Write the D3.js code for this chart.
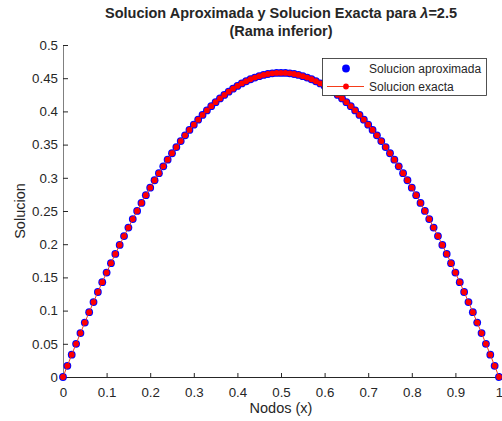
<!DOCTYPE html>
<html>
<head>
<meta charset="utf-8">
<script src="https://cdn.jsdelivr.net/npm/d3@7"></script>
<style>
    body { margin: 0; background: #fff; }
    text { font-family: "Liberation Sans", Arial, Helvetica, sans-serif; fill: #262626; }
</style>
</head>
<body>
<svg id="chart" width="502" height="421"></svg>
<script>
// Nodes (x)
const nodos = [
    0.00, 0.01, 0.02, 0.03, 0.04, 0.05, 0.06, 0.07, 0.08, 0.09,
    0.10, 0.11, 0.12, 0.13, 0.14, 0.15, 0.16, 0.17, 0.18, 0.19,
    0.20, 0.21, 0.22, 0.23, 0.24, 0.25, 0.26, 0.27, 0.28, 0.29,
    0.30, 0.31, 0.32, 0.33, 0.34, 0.35, 0.36, 0.37, 0.38, 0.39,
    0.40, 0.41, 0.42, 0.43, 0.44, 0.45, 0.46, 0.47, 0.48, 0.49,
    0.50, 0.51, 0.52, 0.53, 0.54, 0.55, 0.56, 0.57, 0.58, 0.59,
    0.60, 0.61, 0.62, 0.63, 0.64, 0.65, 0.66, 0.67, 0.68, 0.69,
    0.70, 0.71, 0.72, 0.73, 0.74, 0.75, 0.76, 0.77, 0.78, 0.79,
    0.80, 0.81, 0.82, 0.83, 0.84, 0.85, 0.86, 0.87, 0.88, 0.89,
    0.90, 0.91, 0.92, 0.93, 0.94, 0.95, 0.96, 0.97, 0.98, 0.99,
    1.00
];

const solAprox = [
    0, 0.0169, 0.0336, 0.0500, 0.0661, 0.0820, 0.0976, 0.1129, 0.1280, 0.1428,
    0.1572, 0.1714, 0.1853, 0.1989, 0.2122, 0.2251, 0.2378, 0.2501, 0.2622, 0.2739,
    0.2852, 0.2963, 0.3070, 0.3173, 0.3273, 0.3370, 0.3463, 0.3553, 0.3639, 0.3721,
    0.3800, 0.3875, 0.3947, 0.4015, 0.4079, 0.4139, 0.4196, 0.4248, 0.4297, 0.4342,
    0.4384, 0.4421, 0.4454, 0.4484, 0.4509, 0.4531, 0.4549, 0.4563, 0.4573, 0.4579,
    0.4580, 0.4579, 0.4573, 0.4563, 0.4549, 0.4531, 0.4509, 0.4484, 0.4454, 0.4421,
    0.4384, 0.4342, 0.4297, 0.4248, 0.4196, 0.4139, 0.4079, 0.4015, 0.3947, 0.3875,
    0.3800, 0.3721, 0.3639, 0.3553, 0.3463, 0.3370, 0.3273, 0.3173, 0.3070, 0.2963,
    0.2852, 0.2739, 0.2622, 0.2501, 0.2378, 0.2251, 0.2122, 0.1989, 0.1853, 0.1714,
    0.1572, 0.1428, 0.1280, 0.1129, 0.0976, 0.0820, 0.0661, 0.0500, 0.0336, 0.0169,
    0
];

const solExacta = [
    0, 0.0169, 0.0336, 0.0500, 0.0661, 0.0820, 0.0976, 0.1129, 0.1280, 0.1428,
    0.1572, 0.1714, 0.1853, 0.1989, 0.2122, 0.2251, 0.2378, 0.2501, 0.2622, 0.2739,
    0.2852, 0.2963, 0.3070, 0.3173, 0.3273, 0.3370, 0.3463, 0.3553, 0.3639, 0.3721,
    0.3800, 0.3875, 0.3947, 0.4015, 0.4079, 0.4139, 0.4196, 0.4248, 0.4297, 0.4342,
    0.4384, 0.4421, 0.4454, 0.4484, 0.4509, 0.4531, 0.4549, 0.4563, 0.4573, 0.4579,
    0.4580, 0.4579, 0.4573, 0.4563, 0.4549, 0.4531, 0.4509, 0.4484, 0.4454, 0.4421,
    0.4384, 0.4342, 0.4297, 0.4248, 0.4196, 0.4139, 0.4079, 0.4015, 0.3947, 0.3875,
    0.3800, 0.3721, 0.3639, 0.3553, 0.3463, 0.3370, 0.3273, 0.3173, 0.3070, 0.2963,
    0.2852, 0.2739, 0.2622, 0.2501, 0.2378, 0.2251, 0.2122, 0.1989, 0.1853, 0.1714,
    0.1572, 0.1428, 0.1280, 0.1129, 0.0976, 0.0820, 0.0661, 0.0500, 0.0336, 0.0169,
    0
];

const xTicks = [0, 0.1, 0.2, 0.3, 0.4, 0.5, 0.6, 0.7, 0.8, 0.9, 1];
const yTicks = [0, 0.05, 0.1, 0.15, 0.2, 0.25, 0.3, 0.35, 0.4, 0.45, 0.5];
const legendLabels = ["Solucion aproximada", "Solucion exacta"];

const svg = d3.select("#chart");
const margin = { top: 45, right: 3, bottom: 44, left: 63 };
const width = 502 - margin.left - margin.right;
const height = 421 - margin.top - margin.bottom;

const chart = svg.append("g")
    .attr("transform", `translate(${margin.left},${margin.top})`);

// Scales
const x = d3.scaleLinear().domain([0, 1]).range([0, width]);
const y = d3.scaleLinear().domain([0, 0.5]).range([height, 0]);

// Axes (ticks pointing inward, like matlab)
const xAxis = chart.append("g")
    .attr("transform", `translate(0,${height})`)
    .call(d3.axisTop(x).tickValues(xTicks).tickFormat(d3.format("")).tickSizeInner(4).tickSizeOuter(0));
xAxis.select(".domain").attr("stroke", "#262626");
xAxis.selectAll(".tick line").attr("stroke", "#262626");
xAxis.selectAll(".tick text")
    .attr("y", 20)
    .attr("dy", "0")
    .style("font-size", "13.3px")
    .attr("fill", "#262626");

const yAxis = chart.append("g")
    .call(d3.axisRight(y).tickValues(yTicks).tickFormat(d3.format("")).tickSizeInner(5).tickSizeOuter(0));
yAxis.select(".domain").attr("stroke", "#808080");
yAxis.selectAll(".tick line").attr("stroke", "#262626");
yAxis.selectAll(".tick text")
    .attr("x", -5)
    .attr("text-anchor", "end")
    .style("font-size", "13.3px")
    .attr("fill", "#262626");

// Labels
chart.append("text")
    .attr("x", width / 2)
    .attr("y", height + 36)
    .attr("text-anchor", "middle")
    .style("font-size", "14.5px")
    .text("Nodos (x)");

chart.append("text")
    .attr("transform", "rotate(-90)")
    .attr("x", -height / 2)
    .attr("y", -38)
    .attr("text-anchor", "middle")
    .style("font-size", "14.5px")
    .text("Solucion");

// Title
const title = svg.append("text")
    .attr("text-anchor", "middle")
    .style("font-size", "14.5px")
    .style("font-weight", "bold")
    .attr("fill", "#000");
title.append("tspan")
    .attr("x", margin.left + width / 2)
    .attr("y", 18)
    .text("Solucion Aproximada y Solucion Exacta para ")
    .append("tspan")
    .style("font-style", "italic")
    .text("λ");
title.select("tspan").append("tspan").text("=2.5");
title.append("tspan")
    .attr("x", margin.left + width / 2)
    .attr("y", 36)
    .text("(Rama inferior)");

const data = nodos.map((n, i) => ({ x: n, aprox: solAprox[i], exacta: solExacta[i] }));

// Approximate solution: blue filled circles
chart.selectAll(".aprox")
    .data(data)
    .enter().append("circle")
    .attr("class", "aprox")
    .attr("cx", d => x(d.x))
    .attr("cy", d => y(d.aprox))
    .attr("r", 3.9)
    .attr("fill", "#0000ff");

// Exact solution: red line with dots
chart.append("path")
    .datum(data)
    .attr("fill", "none")
    .attr("stroke", "#f53d1a")
    .attr("stroke-width", 1)
    .attr("d", d3.line().x(d => x(d.x)).y(d => y(d.exacta)));

chart.selectAll(".exacta")
    .data(data)
    .enter().append("circle")
    .attr("class", "exacta")
    .attr("cx", d => x(d.x))
    .attr("cy", d => y(d.exacta))
    .attr("r", 2.9)
    .attr("fill", "#ff0000");

// Legend
const legend = svg.append("g").attr("transform", "translate(322,58)");
legend.append("rect")
    .attr("x", 0.5).attr("y", 0.5)
    .attr("width", 164).attr("height", 37)
    .attr("fill", "#fff")
    .attr("stroke", "#262626")
    .attr("stroke-width", 0.8);

legend.append("circle")
    .attr("cx", 24).attr("cy", 10.5)
    .attr("r", 3.9)
    .attr("fill", "#0000ff");

legend.append("line")
    .attr("x1", 5).attr("x2", 42)
    .attr("y1", 28.5).attr("y2", 28.5)
    .attr("stroke", "#f53d1a")
    .attr("stroke-width", 1);
legend.append("circle")
    .attr("cx", 24).attr("cy", 28.5)
    .attr("r", 2.9)
    .attr("fill", "#ff0000");

legend.selectAll(".leg-text")
    .data(legendLabels)
    .enter().append("text")
    .attr("class", "leg-text")
    .attr("x", 47)
    .attr("y", (d, i) => 10.5 + i * 18)
    .attr("dy", "0.35em")
    .style("font-size", "12px")
    .attr("fill", "#000")
    .text(d => d);
</script>
</body>
</html>
